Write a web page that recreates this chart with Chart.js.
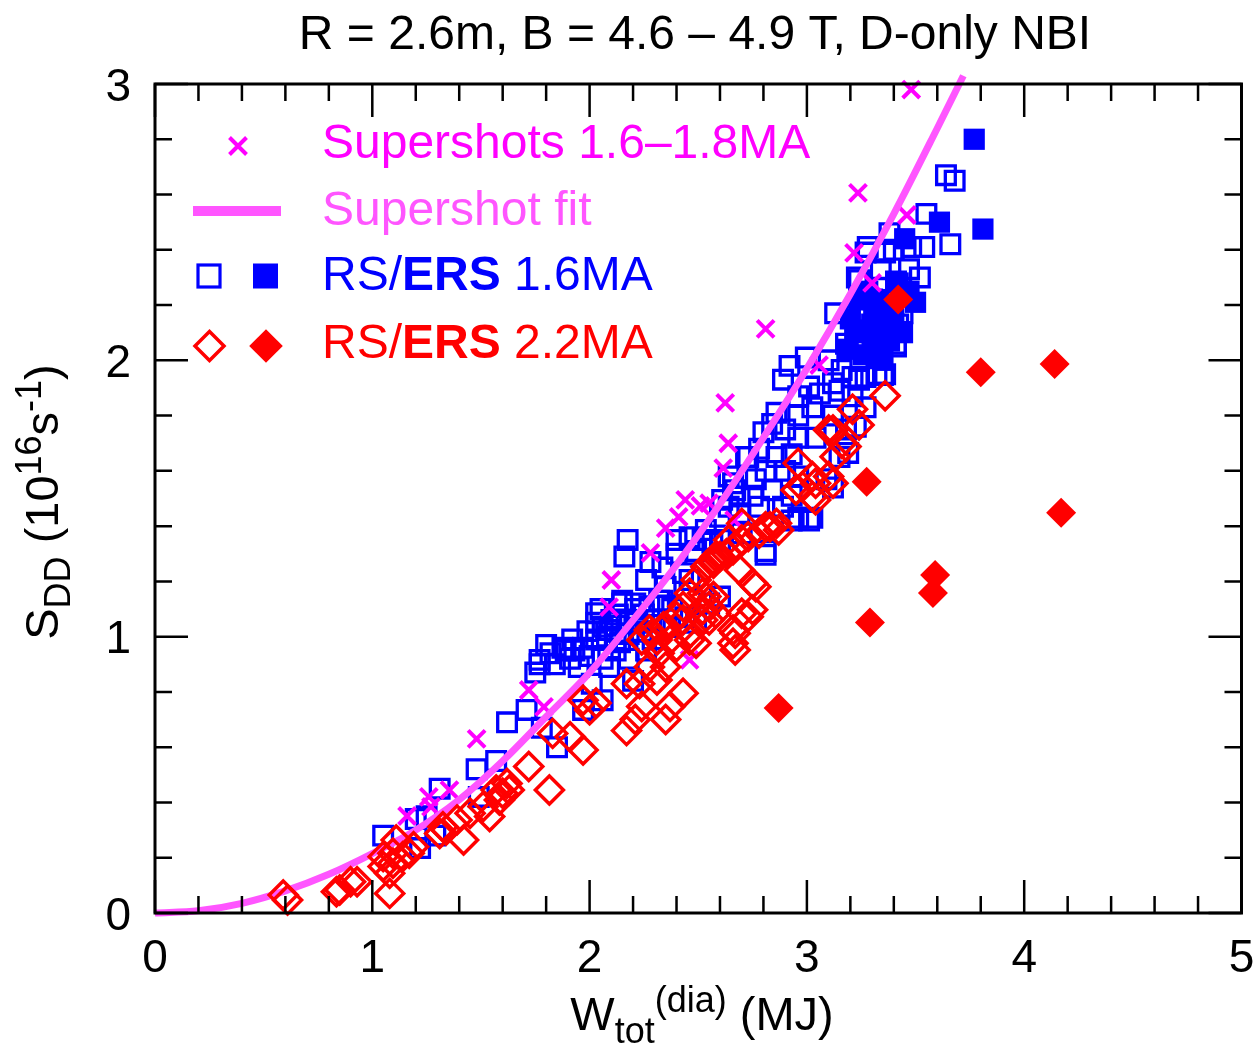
<!DOCTYPE html>
<html><head><meta charset="utf-8">
<script src="https://cdn.jsdelivr.net/npm/chart.js@4.4.1/dist/chart.umd.min.js"></script>
<style>html,body{margin:0;padding:0;background:#fff;overflow:hidden}canvas{display:block}</style>
</head><body>
<canvas id="c" width="1259" height="1046" style="width:1259px;height:1046px"></canvas>
<script>
// ---------------- data ----------------
const xTickLabels = ['0', '1', '2', '3', '4', '5'];
const yTickLabels = ['0', '1', '2', '3'];

// Supershots 1.6–1.8MA (magenta x)
const supershots = [[3.48,2.98],[3.235,2.606],[3.46,2.526],[3.217,2.389],[3.30,2.28],[2.81,2.114],[2.624,1.846],[3.056,1.983],[2.638,1.70],[2.615,1.61],[2.55,1.483],[2.44,1.495],[2.51,1.473],[2.41,1.433],[2.35,1.393],[2.28,1.303],[2.10,1.205],[2.46,0.916],[1.72,0.807],[1.79,0.746],[2.09,1.107],[1.48,0.63],[1.16,0.351],[1.27,0.384],[1.355,0.445],[1.26,0.42],[2.665,1.422]];

// Supershot fit curve, read at points along the drawn curve
const fitX = [0, 0.2, 0.4, 0.6, 0.8, 1.0, 1.2, 1.4, 1.6, 1.8, 2.0, 2.2, 2.4, 2.6, 2.8, 3.0, 3.2, 3.4, 3.6, 3.72];
const fitY = [0, 0.008, 0.035, 0.08, 0.14, 0.215, 0.30, 0.41, 0.55, 0.71, 0.87, 1.06, 1.26, 1.48, 1.72, 1.97, 2.24, 2.53, 2.84, 3.03];

// RS 1.6MA (open blue squares)
const rs16 = [[1.05,0.28],[1.20,0.34],[1.22,0.235],[1.29,0.28],[1.31,0.45],[1.25,0.35],[1.49,0.42],[1.48,0.52],[1.57,0.55],[1.62,0.69],[1.71,0.735],[1.78,0.67],[1.75,0.87],[1.77,0.90],[1.82,0.94],[1.85,0.60],[1.875,0.96],[1.91,0.92],[1.95,0.89],[1.97,0.96],[2.03,1.05],[2.03,1.085],[2.03,0.99],[2.08,1.00],[2.06,0.77],[1.97,0.735],[2.01,0.83],[2.12,1.04],[2.14,0.98],[2.18,0.92],[2.20,0.84],[2.09,0.89],[2.15,1.13],[2.21,1.10],[2.275,1.11],[2.24,1.02],[2.29,0.99],[2.37,1.035],[2.335,1.13],[2.44,1.07],[2.49,1.05],[2.55,1.12],[2.175,1.35],[2.16,1.29],[2.28,1.27],[2.26,1.205],[2.335,1.25],[2.40,1.35],[2.46,1.36],[2.52,1.35],[2.49,1.31],[2.40,1.30],[2.43,1.23],[2.46,1.205],[2.32,1.13],[2.21,1.12],[2.15,1.12],[2.06,1.036],[2.09,1.024],[2.12,0.99],[2.18,1.01],[1.89,0.95],[1.77,0.916],[2.64,1.58],[2.72,1.65],[2.67,1.53],[2.61,1.495],[2.69,1.447],[2.70,1.374],[2.66,1.555],[2.69,1.507],[2.64,1.47],[2.60,1.434],[2.535,1.386],[2.60,1.35],[2.565,1.34],[2.81,1.296],[3.01,1.42],[2.93,1.42],[2.60,1.145],
  [1.80,0.97],[1.84,0.90],[1.93,0.95],[1.99,1.02],[2.00,0.93],[2.05,1.10],[2.10,1.06],[2.13,1.08],[2.17,1.06],[2.22,1.05],[2.25,1.08],[2.30,1.06],[2.12,0.95],[2.06,0.92],[2.26,0.95],[1.92,0.99],[2.35,1.18],[2.38,1.10],
  [3.27,2.39],[3.36,2.39],[3.24,2.29],[3.30,2.22],[3.13,2.17],[3.225,2.16],[3.30,2.13],[3.42,2.13],[3.36,2.10],[3.33,2.06],[3.41,2.05],[3.24,2.06],[2.995,2.01],[2.92,1.98],[3.10,2.00],[3.16,1.965],[3.21,1.94],[3.35,1.947],[3.27,1.94],[2.89,1.93],[3.01,1.905],[3.12,1.917],[3.21,1.87],[2.96,1.87],[3.06,1.88],[3.025,1.83],[2.86,1.81],[2.96,1.80],[3.12,1.80],[3.27,1.83],[2.84,1.77],[2.80,1.74],[2.90,1.75],[2.96,1.72],[3.04,1.72],[3.18,1.75],[3.225,1.76],[2.78,1.68],[2.73,1.65],[2.86,1.65],[2.93,1.66],[3.15,1.65],[2.81,1.60],[2.765,1.57],[2.90,1.60],[2.96,1.58],[3.09,1.57],[2.75,1.51],[2.84,1.53],[2.93,1.51],[2.78,1.47],[2.89,1.47],[2.96,1.43],[3.025,1.43],[2.81,1.31],
  [3.64,2.67],[3.68,2.65],[3.66,2.42],[3.55,2.53],[3.54,2.41],[3.52,2.30],[3.38,2.46],[3.28,2.41],[3.47,2.33],[3.44,2.17],[3.41,2.06],[3.33,2.12],[3.18,2.06],[3.48,2.41],[3.225,2.17],[3.41,2.285],[3.32,1.95],[3.36,1.95],[3.24,1.93],[3.15,1.89],[3.19,1.665],[3.12,1.54],[3.23,2.30],[3.34,2.33],[3.40,2.40]];

// ERS 1.6MA (filled blue squares)
const ers16 = [[3.77,2.80],[3.81,2.475],[3.61,2.50],[3.50,2.21],[3.45,2.44],[3.33,2.22],[3.40,2.15],[3.29,2.11],[3.38,2.07],[3.19,2.04],[3.26,2.02],[3.35,2.00],[3.47,2.25],[3.24,2.22],[3.31,2.18],[3.22,2.10],[3.28,2.25],[3.36,2.20],[3.42,2.28],[3.20,2.15],[3.30,2.05],[3.37,2.13],[3.44,2.10]];

// RS 2.2MA (open red diamonds)
const rs22 = [[0.61,0.047],[0.59,0.065],[0.85,0.083],[0.90,0.113],[0.93,0.113],[0.835,0.077],[1.08,0.071],[1.05,0.168],[1.05,0.204],[1.095,0.216],[1.14,0.204],[1.11,0.264],[1.08,0.144],[1.17,0.216],[1.19,0.24],[1.31,0.288],[1.325,0.312],[1.42,0.264],[1.39,0.337],[1.45,0.361],[1.51,0.385],[1.54,0.349],[1.585,0.409],[1.62,0.469],[1.57,0.445],[1.095,0.18],[1.34,0.30],[1.60,0.433],[1.63,0.445],[1.72,0.53],[1.815,0.445],[1.83,0.65],[1.91,0.638],[1.97,0.59],[2.00,0.735],[2.03,0.76],[1.97,0.77],[2.17,0.83],[2.17,0.66],[2.21,0.70],[2.24,0.747],[2.23,0.83],[2.275,0.89],[2.31,0.843],[2.35,0.89],[2.35,0.70],[2.37,0.747],[2.43,0.795],[2.31,0.988],[2.275,1.024],[2.35,1.036],[2.40,0.964],[2.43,1.06],[2.46,1.012],[2.52,1.097],[2.55,1.06],[2.58,1.085],[2.66,1.024],[2.66,0.976],[2.67,0.952],[2.70,1.085],[2.57,1.278],[2.63,1.30],[2.67,1.326],[2.73,1.362],[2.78,1.374],[2.83,1.398],[2.87,1.386],[2.69,1.241],[2.765,1.181],[2.73,1.072],[2.57,1.145],[3.36,1.872],[3.21,1.823],[3.24,1.766],[3.12,1.748],[3.16,1.70],[3.13,1.651],[3.12,1.555],[2.96,1.628],[2.95,1.531],[3.04,1.555],[3.025,1.507],[2.81,1.398],[2.86,1.41],[2.70,1.35],[2.66,1.314],[2.60,1.29],[2.57,1.266],[2.75,1.193],[2.75,1.097],[2.535,1.145],[3.10,1.58],[3.025,1.58],[3.04,1.495],[2.98,1.543],[3.18,1.688],[3.10,1.748],[2.70,1.41],[2.64,1.35],[2.58,1.29],[2.535,1.253],[2.49,1.205],[2.46,1.157],[2.52,1.157],[2.55,1.109],[2.43,1.109],[2.40,1.072],[2.52,1.06],[2.34,1.036],[2.29,1.012],[2.24,0.988],[2.37,0.988],[2.46,0.988],[2.49,0.976],[2.67,1.012],[2.32,0.94]];

// ERS 2.2MA (filled red diamonds)
const ers22 = [[3.42,2.22],[3.80,1.957],[4.14,1.987],[3.275,1.561],[4.17,1.448],[3.59,1.223],[3.58,1.158],[3.29,1.051],[2.87,0.742]];

// ---------------- styling ----------------
const BLUE = '#0000ff', RED = '#ff0000', MAG = '#ff00ff', FIT = '#ff55ff';
const FONT_FAMILY = '"Liberation Sans", Arial, Helvetica, sans-serif';
const fnt = (size, bold) => (bold ? 'bold ' : '') + size + 'px ' + FONT_FAMILY;
const pts = arr => arr.map(p => ({ x: p[0], y: p[1] }));
const MINOR_DIV = 5;

function richText(ctx, segs, x, y, align) {
  let total = 0;
  for (const s of segs) { ctx.font = fnt(s.size, s.bold); s.w = ctx.measureText(s.t).width; total += s.w; }
  let cx = align === 'center' ? x - total / 2 : (align === 'right' ? x - total : x);
  ctx.textAlign = 'left'; ctx.textBaseline = 'alphabetic';
  for (const s of segs) { ctx.font = fnt(s.size, s.bold); ctx.fillText(s.t, cx, y + (s.dy || 0)); cx += s.w; }
}

const decor = {
  id: 'decor',
  afterDatasetsDraw(chart) {
    const { ctx, chartArea: a, scales: { x: xs, y: ys } } = chart;
    ctx.save();
    ctx.strokeStyle = '#000';
    ctx.lineWidth = 3;
    ctx.strokeRect(a.left, a.top, a.right - a.left, a.bottom - a.top);
    const MAJ = 33, MIN = 17;
    ctx.lineWidth = 2.5;
    ctx.beginPath();
    const xt = xs.ticks.map(t => t.value), yt = ys.ticks.map(t => t.value);
    const xTick = (v, len) => { const p = xs.getPixelForValue(v); ctx.moveTo(p, a.bottom); ctx.lineTo(p, a.bottom - len); ctx.moveTo(p, a.top); ctx.lineTo(p, a.top + len); };
    const yTick = (v, len) => { const p = ys.getPixelForValue(v); ctx.moveTo(a.left, p); ctx.lineTo(a.left + len, p); ctx.moveTo(a.right, p); ctx.lineTo(a.right - len, p); };
    xt.forEach((v, i) => { xTick(v, MAJ); if (i < xt.length - 1) for (let k = 1; k < MINOR_DIV; k++) xTick(v + (xt[i + 1] - v) * k / MINOR_DIV, MIN); });
    yt.forEach((v, i) => { yTick(v, MAJ); if (i < yt.length - 1) for (let k = 1; k < MINOR_DIV; k++) yTick(v + (yt[i + 1] - v) * k / MINOR_DIV, MIN); });
    ctx.stroke();

    ctx.fillStyle = '#000';
    ctx.font = fnt(46);
    ctx.textBaseline = 'alphabetic';
    ctx.textAlign = 'center';
    xt.forEach((v, i) => ctx.fillText(xTickLabels[i], xs.getPixelForValue(v), a.bottom + 59));
    ctx.textAlign = 'right';
    yt.forEach((v, i) => ctx.fillText(yTickLabels[i], a.left - 24, ys.getPixelForValue(v) + 16.5));

    richText(ctx, [{ t: 'R = 2.6m, B = 4.6 \u2013 4.9 T, D-only NBI', size: 48 }], 695, 49, 'center');
    richText(ctx, [
      { t: 'W', size: 47 }, { t: 'tot', size: 36, dy: 13 }, { t: '(dia)', size: 36, dy: -18 }, { t: ' (MJ)', size: 47 }
    ], 702, 1030, 'center');
    ctx.save();
    ctx.translate(58, 502);
    ctx.rotate(-Math.PI / 2);
    richText(ctx, [
      { t: 'S', size: 47 }, { t: 'DD', size: 36, dy: 12 }, { t: ' (10', size: 47 }, { t: '16', size: 36, dy: -17 },
      { t: 's', size: 47 }, { t: '-1', size: 36, dy: -17 }, { t: ')', size: 47 }
    ], 0, 0, 'center');
    ctx.restore();

    // legend
    ctx.lineJoin = 'miter';
    ctx.strokeStyle = MAG; ctx.lineWidth = 4;
    ctx.beginPath();
    const r1 = 8.5, cx1 = 238, cy1 = 146;
    ctx.moveTo(cx1 - r1, cy1 - r1); ctx.lineTo(cx1 + r1, cy1 + r1);
    ctx.moveTo(cx1 + r1, cy1 - r1); ctx.lineTo(cx1 - r1, cy1 + r1);
    ctx.stroke();
    ctx.strokeStyle = FIT; ctx.lineWidth = 10;
    ctx.beginPath(); ctx.moveTo(193, 211); ctx.lineTo(281, 211); ctx.stroke();
    ctx.strokeStyle = BLUE; ctx.lineWidth = 3.2;
    ctx.strokeRect(209 - 11, 276 - 11, 22, 22);
    ctx.fillStyle = BLUE; ctx.fillRect(265.5 - 12.5, 276 - 12.5, 25, 25);
    ctx.strokeStyle = RED; ctx.lineWidth = 3.5;
    const d = (cx, cy, h) => { ctx.beginPath(); ctx.moveTo(cx, cy - h); ctx.lineTo(cx + h, cy); ctx.lineTo(cx, cy + h); ctx.lineTo(cx - h, cy); ctx.closePath(); };
    d(209.5, 346, 14.5); ctx.stroke();
    ctx.fillStyle = RED; d(266, 346, 16.8); ctx.fill();

    ctx.fillStyle = MAG; richText(ctx, [{ t: 'Supershots 1.6\u20131.8MA', size: 48 }], 322, 158, 'left');
    ctx.fillStyle = FIT; richText(ctx, [{ t: 'Supershot fit', size: 48 }], 322, 225, 'left');
    ctx.fillStyle = BLUE; richText(ctx, [{ t: 'RS/', size: 48 }, { t: 'ERS', size: 48, bold: true }, { t: ' 1.6MA', size: 48 }], 322, 290, 'left');
    ctx.fillStyle = RED; richText(ctx, [{ t: 'RS/', size: 48 }, { t: 'ERS', size: 48, bold: true }, { t: ' 2.2MA', size: 48 }], 322, 358, 'left');
    ctx.restore();
  }
};

new Chart(document.getElementById('c').getContext('2d'), {
  type: 'scatter',
  data: {
    datasets: [
      { label: 'ERS 2.2MA', data: pts(ers22), pointStyle: 'rectRot', pointRadius: 15, pointBorderWidth: 0, pointBackgroundColor: RED, pointBorderColor: RED, clip: false },
      { label: 'RS 2.2MA', data: pts(rs22), pointStyle: 'rectRot', pointRadius: 14, pointBorderWidth: 3.5, pointBackgroundColor: 'rgba(0,0,0,0)', pointBorderColor: RED, clip: false },
      { type: 'line', label: 'Supershot fit', data: fitX.map((v, i) => ({ x: v, y: fitY[i] })), borderColor: FIT, borderWidth: 7, pointRadius: 0, fill: false, cubicInterpolationMode: 'monotone', showLine: true, clip: false },
      { label: 'Supershots 1.6–1.8MA', data: pts(supershots), pointStyle: 'crossRot', pointRadius: 12, pointBorderWidth: 4, pointBorderColor: MAG, pointBackgroundColor: MAG, clip: false },
      { label: 'ERS 1.6MA', data: pts(ers16), pointStyle: 'rect', pointRadius: 15, pointBorderWidth: 0, pointBackgroundColor: BLUE, pointBorderColor: BLUE, clip: false },
      { label: 'RS 1.6MA', data: pts(rs16), pointStyle: 'rect', pointRadius: 13.2, pointBorderWidth: 3.3, pointBackgroundColor: 'rgba(0,0,0,0)', pointBorderColor: BLUE, clip: false }
    ]
  },
  options: {
    responsive: false,
    animation: false,
    devicePixelRatio: 1,
    events: [],
    layout: { padding: { left: 155, right: 16, top: 84, bottom: 133 } },
    plugins: { legend: { display: false }, tooltip: { enabled: false }, title: { display: false } },
    scales: {
      x: { type: 'linear', display: false, min: 0, max: 5, ticks: { stepSize: 1 } },
      y: { type: 'linear', display: false, min: 0, max: 3, ticks: { stepSize: 1 } }
    }
  },
  plugins: [decor]
});
</script>
</body></html>
